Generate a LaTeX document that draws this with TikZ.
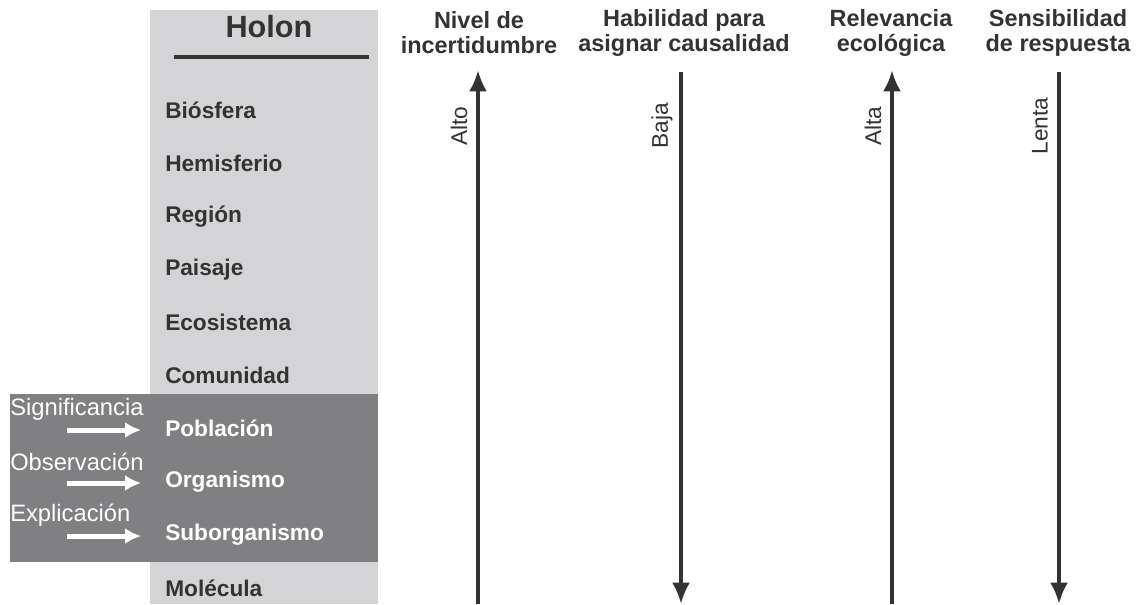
\documentclass[tikz,border=0pt]{standalone}
\usepackage{fontspec}
\setmainfont{Liberation Sans}
\usetikzlibrary{arrows.meta}
\definecolor{colgray}{RGB}{212,212,214}
\definecolor{boxgray}{RGB}{128,128,130}
\definecolor{ink}{RGB}{51,51,51}
\tikzset{
  item/.style={anchor=west,inner sep=0pt,text=ink,font=\bfseries\fontsize{17}{18}\selectfont},
  head/.style={align=center,inner sep=0pt,text=ink,font=\bfseries\fontsize{17.6}{18.75}\selectfont},
  side/.style={anchor=west,inner sep=0pt,text=white,font=\fontsize{17.8}{20}\selectfont},
  axlab/.style={rotate=90,inner sep=0pt,text=ink,font=\fontsize{17}{18}\selectfont},
  axis/.style={ink,line width=3pt,-{Latex[length=16pt,width=13.5pt]}},
  warrow/.style={white,line width=3.75pt,-{Latex[length=12pt,width=12pt]}}
}
\begin{document}
\begin{tikzpicture}[x=0.75pt,y=-0.75pt]
  \useasboundingbox (0,0) rectangle (1137,604);
  % holon column
  \fill[colgray] (150,10) rectangle (378,604);
  \fill[boxgray] (10,394) rectangle (378,562);
  \node[head,font=\bfseries\fontsize{23}{24}\selectfont] (holon) at (269,27) {Holon};
  \draw[ink,line width=3pt] (174,57) -- (369,57);
  \foreach \n/\t/\c [count=\i from 0] in {bio/Biósfera/ink,hem/Hemisferio/ink,reg/Región/ink,
      pai/Paisaje/ink,eco/Ecosistema/ink,com/Comunidad/ink,pob/Población/white,
      org/Organismo/white,sub/Suborganismo/white,mol/Molécula/ink}
    \node[item,text=\c] (\n) at (165,110+53.1*\i) {\t};
  % white arrows on the left
  \foreach \n/\t/\y in {sig/Significancia/409,obs/Observación/462,exp/Explicación/515} {
    \node[side] (\n) at (10,\y) {\t};
    \coordinate (\n a) at (67,\y+21);
    \coordinate (\n b) at (141,\y+21);
    \draw[warrow] (\n a) -- (\n b);
  }
  % headers
  \node[head] (hunc) at (479,33) {Nivel de\\incertidumbre};
  \node[head] (hcau) at (684,33) {Habilidad para\\asignar causalidad};
  \node[head] (heco) at (891,33) {Relevancia\\ecológica};
  \node[head] (hres) at (1058,33) {Sensibilidad\\de respuesta};
  % vertical axes
  \foreach \n/\x/\a/\b/\l in {unc/478/604/70/Alto,cau/681/72/604/Baja,
      eco/892/604/70/Alta,res/1059/72/604/Lenta} {
    \coordinate (\n s) at (\x,\a);
    \coordinate (\n e) at (\x,\b);
    \draw[axis] (\n s) -- (\n e);
    \node[axlab] (l\n) at (\x-19,126) {\l};
  }
\end{tikzpicture}
\end{document}
